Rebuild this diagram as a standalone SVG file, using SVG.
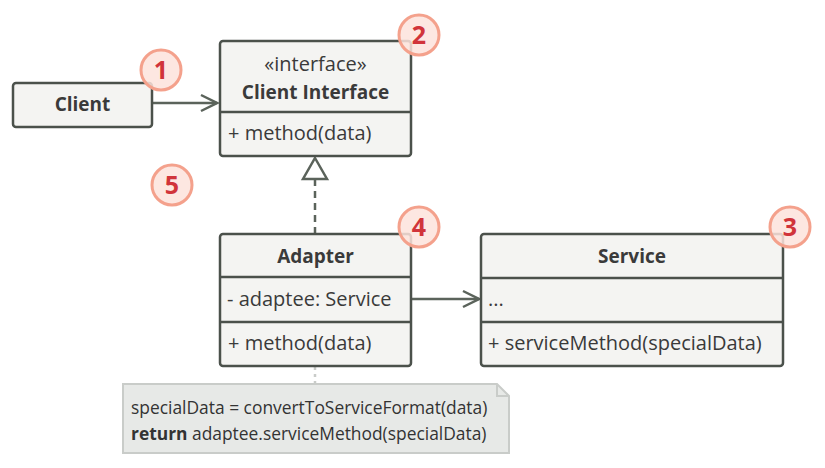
<svg xmlns="http://www.w3.org/2000/svg" width="825" height="468" viewBox="0 0 825 468">
<defs>
<style>
.box{fill:#f4f4f2;stroke:#4b514b;stroke-width:2.5}
.div{stroke:#4b514b;stroke-width:2.5}
.t{font-family:"Open Sans","Noto Sans",sans-serif;font-size:20px;fill:#3a3a3a}
.b{font-weight:bold;font-size:19px}
.m{text-anchor:middle}
.badge circle{fill:#fde3dc;fill-opacity:0.85;stroke:#f4a18c;stroke-width:3}
.badge text{font-family:"Open Sans","Noto Sans",sans-serif;font-size:25px;font-weight:bold;fill:#d1343a;text-anchor:middle}
.con{stroke:#5b635b;stroke-width:2.5;fill:none}
.nt{font-family:"Open Sans","Noto Sans",sans-serif;font-size:17.4px;fill:#333}
</style>
<marker id="open" viewBox="0 0 20 20" refX="18" refY="10" markerWidth="20" markerHeight="20" markerUnits="userSpaceOnUse" orient="auto">
<path d="M2,2 L18,10 L2,18" fill="none" stroke="#5b635b" stroke-width="2.5"/>
</marker>
</defs>
<rect width="825" height="468" fill="#ffffff"/>

<g id="connectors">
<line class="con" x1="152" y1="103" x2="217" y2="103" marker-end="url(#open)"/>
<line class="con" x1="411" y1="299" x2="479" y2="299" marker-end="url(#open)"/>
<line class="con" x1="315" y1="179" x2="315" y2="233" stroke-dasharray="7,5"/>
<path class="con" d="M315,158 L327,179 L303,179 Z" fill="#ffffff"/>
<line x1="315" y1="367" x2="315" y2="384" stroke="#c9ccc9" stroke-width="2.5" stroke-dasharray="3,4"/>
</g>

<g id="client">
<rect class="box" x="13" y="83" width="139" height="44" rx="3"/>
<text class="t b m" x="82.5" y="111">Client</text>
</g>

<g id="client-interface">
<rect class="box" x="220" y="41" width="191" height="115" rx="3"/>
<line class="div" x1="220" y1="112" x2="411" y2="112"/>
<text class="t m" x="315.5" y="71">«interface»</text>
<text class="t b m" x="315.5" y="99">Client Interface</text>
<text class="t" x="228" y="140">+ method(data)</text>
</g>

<g id="adapter">
<rect class="box" x="220" y="234" width="191" height="132" rx="3"/>
<line class="div" x1="220" y1="277" x2="411" y2="277"/>
<line class="div" x1="220" y1="322" x2="411" y2="322"/>
<text class="t b m" x="315.5" y="263">Adapter</text>
<text class="t" x="227" y="306">- adaptee: Service</text>
<text class="t" x="228" y="350">+ method(data)</text>
</g>

<g id="service">
<rect class="box" x="481" y="234" width="302" height="132" rx="3"/>
<line class="div" x1="481" y1="278" x2="783" y2="278"/>
<line class="div" x1="481" y1="322" x2="783" y2="322"/>
<text class="t b m" x="632" y="263">Service</text>
<text class="t" x="488" y="306">...</text>
<text class="t" x="488" y="350">+ serviceMethod(specialData)</text>
</g>

<g id="note">
<path d="M123,384 L497,384 L509,396 L509,453 L123,453 Z" fill="#e7e9e7" stroke="#c9ccc9" stroke-width="2"/>
<path d="M497,384 L497,396 L509,396" fill="none" stroke="#c9ccc9" stroke-width="2"/>
<text class="nt" x="131" y="414">specialData = convertToServiceFormat(data)</text>
<text class="nt" x="131" y="440"><tspan font-weight="bold">return</tspan> adaptee.serviceMethod(specialData)</text>
</g>

<g id="badge1" class="badge"><circle cx="161" cy="70" r="20"/><text x="161" y="79">1</text></g>
<g id="badge2" class="badge"><circle cx="419" cy="35" r="20"/><text x="419" y="44">2</text></g>
<g id="badge3" class="badge"><circle cx="790" cy="227" r="20"/><text x="790" y="236">3</text></g>
<g id="badge4" class="badge"><circle cx="419" cy="227" r="20"/><text x="419" y="236">4</text></g>
<g id="badge5" class="badge"><circle cx="172" cy="185" r="20"/><text x="172" y="194">5</text></g>
</svg>
